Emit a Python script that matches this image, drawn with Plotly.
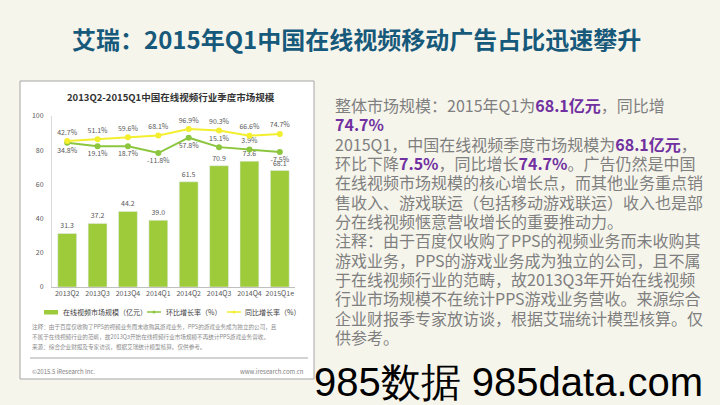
import plotly.graph_objects as go

W, H = 720, 405

categories = ["2013Q2", "2013Q3", "2013Q4", "2014Q1", "2014Q2", "2014Q3", "2014Q4", "2015Q1e"]
market_size = [31.3, 37.2, 44.2, 39.0, 61.5, 70.9, 73.6, 68.1]
qoq_growth = [34.8, 19.1, 18.7, -11.8, 57.8, 15.1, 3.9, -7.5]
yoy_growth = [42.7, 51.1, 59.6, 68.1, 96.9, 90.3, 66.6, 74.7]
qoq_pos = ["bottom center", "bottom center", "bottom center", "bottom center",
           "bottom center", "top center", "top center", "bottom center"]
y_ticks = [0, 20, 40, 60, 80, 100]

title_text = "艾瑞：2015年Q1中国在线视频移动广告占比迅速攀升"
chart_title = "2013Q2-2015Q1中国在线视频行业季度市场规模"
legend_names = ["在线视频市场规模（亿元）", "环比增长率（%）", "同比增长率（%）"]
note_lines = [
    "注释：由于百度仅收购了PPS的视频业务而未收购其游戏业务，PPS的游戏业务成为独立的公司，且",
    "不属于在线视频行业的范畴，故2013Q3开始在线视频行业市场规模不再统计PPS游戏业务营收。",
    "来源：综合企业财报及专家访谈，根据艾瑞统计模型核算。仅供参考。",
]
P = "<b><span style='color:#7030a0'>{}</span></b>"
body_lines = [
    "整体市场规模：2015年Q1为" + P.format("68.1亿元") + "，同比增",
    P.format("74.7%"),
    "2015Q1，中国在线视频季度市场规模为" + P.format("68.1亿元") + "，",
    "环比下降" + P.format("7.5%") + "，同比增长" + P.format("74.7%") + "。广告仍然是中国",
    "在线视频市场规模的核心增长点，而其他业务重点销",
    "售收入、游戏联运（包括移动游戏联运）收入也是部",
    "分在线视频惬意营收增长的重要推动力。",
    "注释：由于百度仅收购了PPS的视频业务而未收购其",
    "游戏业务，PPS的游戏业务成为独立的公司，且不属",
    "于在线视频行业的范畴，故2013Q3年开始在线视频",
    "行业市场规模不在统计PPS游戏业务营收。来源综合",
    "企业财报季专家放访谈，根据艾瑞统计模型核算。仅",
    "供参考。",
]

FONT = "Noto Sans CJK SC"
BAR_C = "#9dcb3a"
QOQ_C = "#8cc63e"
YOY_C = "#f3ef2e"
LBL_C = "#595959"

def px(x):
    return x / W

def py(y):
    return 1 - y / H

fig = go.Figure()
fig.add_trace(go.Bar(
    x=categories, y=market_size, name=legend_names[0], marker_color=BAR_C,
    text=[f"{v:.1f}" for v in market_size], textposition="outside",
    textfont=dict(size=7, color=LBL_C, family=FONT), cliponaxis=False,
))
fig.add_trace(go.Scatter(
    x=categories, y=qoq_growth, name=legend_names[1], yaxis="y2",
    mode="lines+markers+text", line=dict(color=QOQ_C, width=2),
    marker=dict(size=6, color=QOQ_C),
    text=[f"{v:.1f}%" for v in qoq_growth], textposition=qoq_pos,
    textfont=dict(size=7, color=LBL_C, family=FONT), cliponaxis=False,
))
fig.add_trace(go.Scatter(
    x=categories, y=yoy_growth, name=legend_names[2], yaxis="y2",
    mode="lines+markers+text", line=dict(color=YOY_C, width=2),
    marker=dict(size=6, color=YOY_C),
    text=[f"{v:.1f}%" for v in yoy_growth], textposition="top center",
    textfont=dict(size=7, color=LBL_C, family=FONT), cliponaxis=False,
))

shapes = [
    dict(type="rect", xref="paper", yref="paper", x0=px(20), x1=px(314), y0=py(379), y1=py(81),
         fillcolor="#ffffff", line=dict(color="#a6a6a6", width=1), layer="below"),
    dict(type="line", xref="paper", yref="paper", x0=px(30), x1=px(308), y0=py(358), y1=py(358),
         line=dict(color="#a6a6a6", width=1)),
    # legend swatches
    dict(type="rect", xref="paper", yref="paper", x0=px(44), x1=px(58), y0=py(314.5), y1=py(310),
         fillcolor=BAR_C, line=dict(width=0)),
    dict(type="line", xref="paper", yref="paper", x0=px(147), x1=px(161), y0=py(312), y1=py(312),
         line=dict(color=QOQ_C, width=1.5)),
    dict(type="circle", xref="paper", yref="paper", x0=px(152.5), x1=px(155.5), y0=py(313.5), y1=py(310.5),
         fillcolor=QOQ_C, line=dict(width=0)),
    dict(type="line", xref="paper", yref="paper", x0=px(227), x1=px(241), y0=py(312), y1=py(312),
         line=dict(color=YOY_C, width=1.5)),
    dict(type="circle", xref="paper", yref="paper", x0=px(232.5), x1=px(235.5), y0=py(313.5), y1=py(310.5),
         fillcolor=YOY_C, line=dict(width=0)),
]

annotations = [
    dict(text=f"<b>{title_text}</b>", x=px(356), y=py(38), xref="paper", yref="paper",
         showarrow=False, font=dict(size=24, color="#16597a", family=FONT), xanchor="center", yanchor="middle"),
    dict(text=f"<b>{chart_title}</b>", x=px(171), y=py(97), xref="paper", yref="paper",
         showarrow=False, font=dict(size=9.5, color="#333333", family=FONT), xanchor="center", yanchor="middle"),
    dict(text="©2015.5 iResearch Inc.", x=px(30), y=py(371), xref="paper", yref="paper",
         showarrow=False, font=dict(size=6, color="#808080", family=FONT), xanchor="left", yanchor="middle"),
    dict(text="www.iresearch.com.cn", x=px(306), y=py(371), xref="paper", yref="paper",
         showarrow=False, font=dict(size=6, color="#808080", family=FONT), xanchor="right", yanchor="middle"),
    dict(text="985数据 985data.com", x=px(312), y=py(382), xref="paper", yref="paper",
         showarrow=False, font=dict(size=40, color="#000000", family="Liberation Sans"), xanchor="left", yanchor="middle"),
]
legend_pos = [61, 164, 243]
for name, lx in zip(legend_names, legend_pos):
    annotations.append(dict(text=name, x=px(lx), y=py(312), xref="paper", yref="paper",
                            showarrow=False, font=dict(size=7, color="#404040", family=FONT),
                            xanchor="left", yanchor="middle"))
for i, line in enumerate(note_lines):
    annotations.append(dict(text=line, x=px(30), y=py(327 + 10 * i), xref="paper", yref="paper",
                            showarrow=False, font=dict(size=5.6, color="#8c8c8c", family=FONT),
                            xanchor="left", yanchor="middle"))
for i, line in enumerate(body_lines):
    annotations.append(dict(text=line, x=px(333), y=py(105 + 19.33 * i), xref="paper", yref="paper",
                            showarrow=False, font=dict(size=16, color="#7f7f7f", family=FONT),
                            xanchor="left", yanchor="middle"))

fig.update_layout(
    width=W, height=H, margin=dict(l=0, r=0, t=0, b=0, pad=0),
    paper_bgcolor="#f6f5ec", plot_bgcolor="rgba(0,0,0,0)",
    font=dict(family=FONT, color=LBL_C),
    bargap=0.38, showlegend=False, hovermode=False,
    xaxis=dict(domain=[px(52), px(295)], range=[-0.5, 7.5], showgrid=False,
               showline=True, linecolor="#bfbfbf", linewidth=1, ticks="",
               tickfont=dict(size=7, color=LBL_C, family=FONT), automargin=False),
    yaxis=dict(domain=[py(287), py(116)], range=[0, 100], tickvals=y_ticks, showgrid=False,
               showline=True, linecolor="#d9d9d9", linewidth=1, ticks="", zeroline=False,
               tickfont=dict(size=7, color=LBL_C, family=FONT), ticklabelstandoff=6, automargin=False),
    yaxis2=dict(overlaying="y", range=[-618, 156], visible=False, showgrid=False),
    shapes=shapes, annotations=annotations,
)
fig.write_html("out.html", config={"displayModeBar": False},
               post_script="document.body.style.margin='0';document.body.style.overflow='hidden';")
